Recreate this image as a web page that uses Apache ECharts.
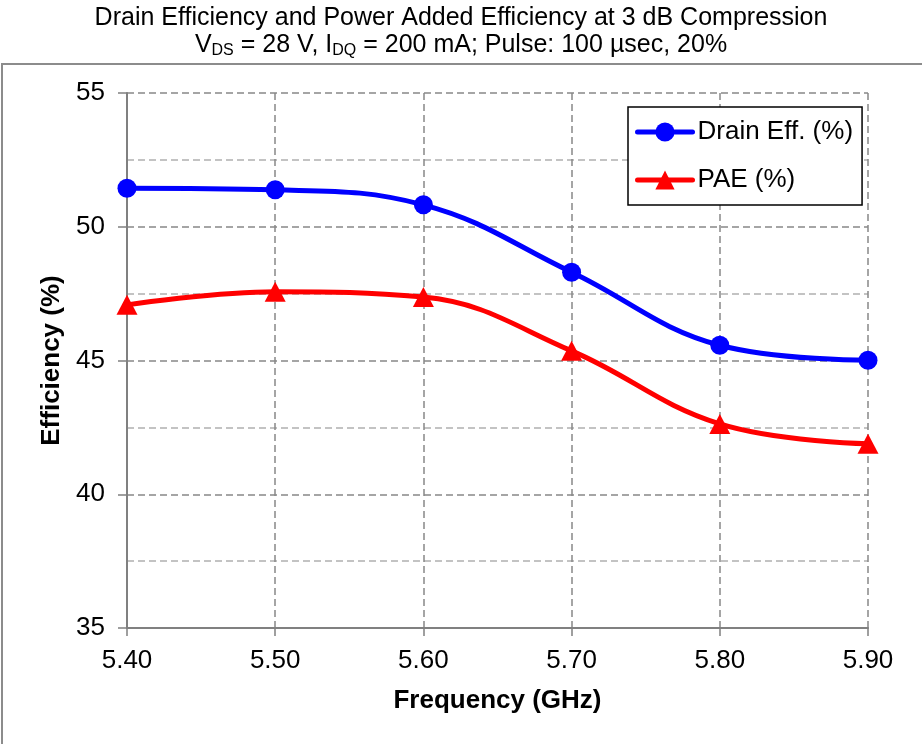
<!DOCTYPE html>
<html>
<head>
<meta charset="utf-8">
<script src="https://cdn.jsdelivr.net/npm/echarts@6/dist/echarts.min.js"></script>
<style>
html,body{margin:0;padding:0;background:#fff;}
#c{width:922px;height:744px;}
</style>
</head>
<body>
<div id="c"></div>
<script>
const frequencies = ['5.40', '5.50', '5.60', '5.70', '5.80', '5.90'];
const drainEff = [51.44, 51.38, 50.82, 48.30, 45.57, 45.01];
const paeVals = [47.08, 47.57, 47.37, 45.36, 42.63, 41.89];
const yTicks = { min: 35, max: 55, interval: 5 };

const FONT = '"Liberation Sans", Arial, Helvetica, sans-serif';
const chart = echarts.init(document.getElementById('c'), null, { renderer: 'canvas' });

const option = {
  backgroundColor: '#fff',
  animation: false,
  textStyle: { fontFamily: FONT, color: '#000' },
  graphic: [{
    type: 'rect',
    shape: { x: 2, y: 64, width: 960, height: 720 },
    style: { fill: 'none', stroke: '#8c8c8c', lineWidth: 2 },
    silent: true, z: -1
  }],
  title: {
    text: 'Drain Efficiency and Power Added Efficiency at 3 dB Compression\nV{sub|DS} = 28 V, I{sub|DQ} = 200 mA; Pulse: 100 µsec, 20%',
    left: 'center',
    top: 5,
    padding: 0,
    textStyle: {
      fontFamily: FONT, fontSize: 25, fontWeight: 'normal', color: '#000', lineHeight: 27,
      rich: {
        sub: { fontFamily: FONT, fontSize: 16, lineHeight: 13, verticalAlign: 'bottom', color: '#000' }
      }
    }
  },
  legend: {
    left: 628, top: 107,
    orient: 'vertical',
    padding: [12, 9, 12, 7],
    itemWidth: 55,
    itemHeight: 24,
    itemGap: 22,
    backgroundColor: '#fff',
    borderColor: '#000',
    borderWidth: 1.5,
    borderRadius: 0,
    lineStyle: { width: 5, cap: 'round' },
    textStyle: { fontFamily: FONT, fontSize: 26, color: '#000', lineHeight: 25 },
    data: ['Drain Eff. (%)', 'PAE (%)']
  },
  grid: { left: 127, right: 54, top: 93, bottom: 116, containLabel: false },
  xAxis: {
    type: 'category',
    data: frequencies,
    boundaryGap: false,
    name: 'Frequency (GHz)',
    nameLocation: 'middle',
    nameGap: 60,
    nameTextStyle: { fontFamily: FONT, fontSize: 26, fontWeight: 'bold', color: '#000' },
    axisLine: { lineStyle: { color: '#808080', width: 2 } },
    axisTick: { show: true, length: 8, alignWithLabel: true, lineStyle: { color: '#808080', width: 1.5 } },
    axisLabel: { fontFamily: FONT, fontSize: 26, color: '#000', margin: 20 },
    splitLine: { show: true, lineStyle: { color: '#888', width: 1.5, type: [7, 4] } }
  },
  yAxis: {
    type: 'value',
    min: yTicks.min, max: yTicks.max, interval: yTicks.interval,
    name: 'Efficiency (%)',
    nameLocation: 'middle',
    nameRotate: 90,
    nameGap: 62,
    nameTextStyle: { fontFamily: FONT, fontSize: 26, fontWeight: 'bold', color: '#000' },
    axisLine: { show: true, lineStyle: { color: '#808080', width: 2 } },
    axisTick: { show: true, length: 9, lineStyle: { color: '#808080', width: 1.5 } },
    axisLabel: { fontFamily: FONT, fontSize: 26, color: '#000', margin: 22 },
    splitLine: { show: true, lineStyle: { color: '#888', width: 1.5, type: [7, 4] } },
    minorTick: { show: false, splitNumber: 2 },
    minorSplitLine: { show: true, lineStyle: { color: '#b0b0b0', width: 1.5, type: [7, 4] } }
  },
  series: [
    {
      name: 'Drain Eff. (%)',
      type: 'line',
      data: drainEff,
      smooth: 0.4,
      symbol: 'circle',
      symbolSize: 19,
      lineStyle: { color: '#0000ff', width: 5 },
      itemStyle: { color: '#0000ff' },
      z: 3
    },
    {
      name: 'PAE (%)',
      type: 'line',
      data: paeVals,
      smooth: 0.4,
      symbol: 'triangle',
      symbolSize: [21, 20],
      lineStyle: { color: '#ff0000', width: 5 },
      itemStyle: { color: '#ff0000' },
      z: 2
    }
  ]
};
chart.setOption(option);
</script>
</body>
</html>
